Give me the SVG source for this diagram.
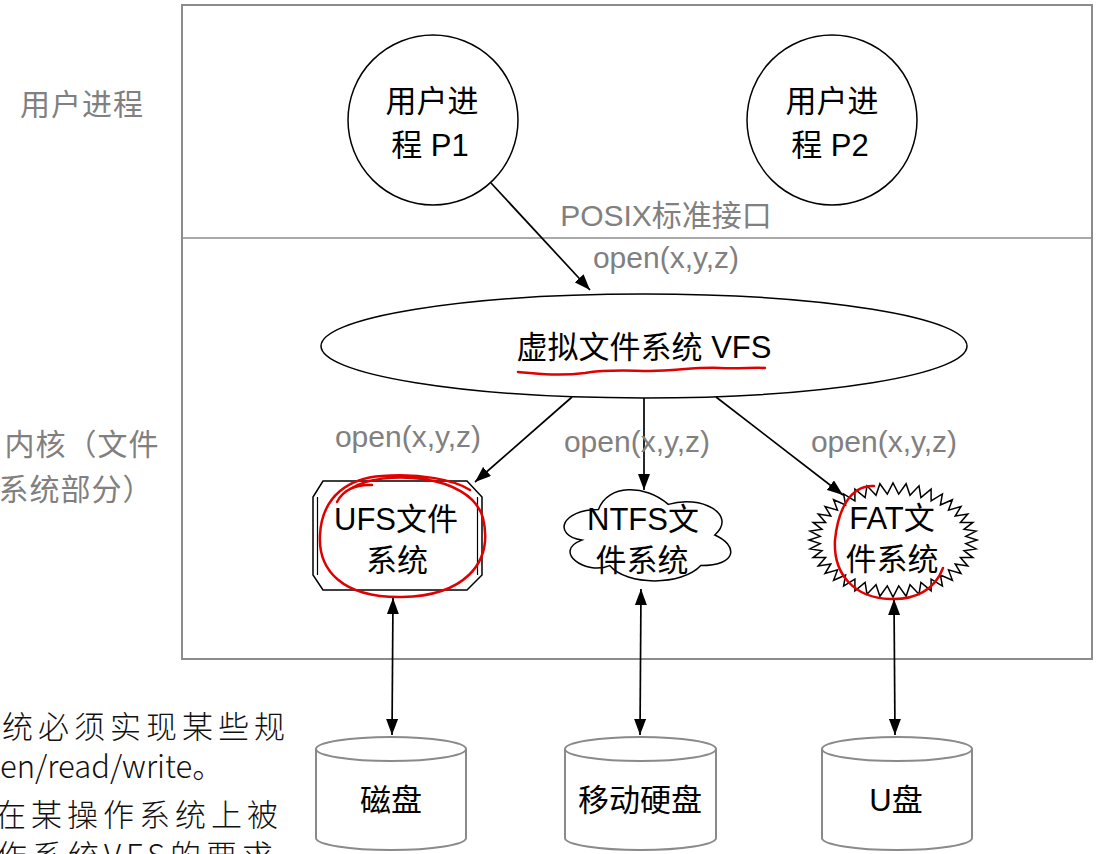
<svg xmlns="http://www.w3.org/2000/svg" width="1108" height="854" viewBox="0 0 1108 854">
<defs>
<style>
.t{font-family:"Liberation Sans","Noto Sans CJK SC",sans-serif;font-size:31px;fill:#000;text-anchor:middle}
.g{font-family:"Liberation Sans","Noto Sans CJK SC",sans-serif;font-size:30px;fill:#808080;text-anchor:middle}
.b{font-family:"Noto Sans CJK SC",sans-serif;font-size:31px;fill:#111;font-weight:300}
.s{fill:#fff;stroke:#000;stroke-width:1.5}
.cyl{fill:#fff;stroke:#8a8a8a;stroke-width:2}
.red{fill:none;stroke:#e00000;stroke-width:2.5;stroke-linecap:round;stroke-linejoin:round}
.ln{fill:none;stroke:#000;stroke-width:1.7}
</style>
<marker id="ah2" viewBox="0 0 16 12" refX="16" refY="6" markerWidth="16" markerHeight="12" markerUnits="userSpaceOnUse" orient="auto-start-reverse">
<path d="M0,0 L16,6 L0,12 Z" fill="#000"/>
</marker>
</defs>
<rect width="1108" height="854" fill="#fff"/>

<g id="frame">
<rect x="182" y="5" width="910" height="654" fill="none" stroke="#8c8c8c" stroke-width="2"/>
<line x1="182" y1="238" x2="1092" y2="238" stroke="#8c8c8c" stroke-width="1.5"/>
</g>

<g id="side-labels">
<text class="g" x="82" y="115" style="letter-spacing:1px">用户进程</text>
<text class="g" x="82" y="455" style="letter-spacing:1px">内核（文件</text>
<text class="g" x="76" y="500" style="letter-spacing:1px">系统部分）</text>
</g>

<g id="p1">
<circle class="s" cx="433" cy="120" r="85"/>
<text class="t" x="432" y="112">用户进</text>
<text class="t" x="430" y="156">程 P1</text>
</g>
<g id="p2">
<circle class="s" cx="832" cy="120" r="85"/>
<text class="t" x="832" y="112">用户进</text>
<text class="t" x="830" y="156">程 P2</text>
</g>

<g id="vfs">
<ellipse class="s" cx="644" cy="346" rx="323" ry="52"/>
<text class="t" x="644" y="358">虚拟文件系统 VFS</text>
</g>

<g id="ufs">
<path class="s" d="M323,481 L467,481 L482,497 L482,575 L467,590 L323,590 L313,575 L313,497 Z"/>
<line x1="317.5" y1="497" x2="317.5" y2="575" stroke="#000" stroke-width="1.2"/>
<line x1="477.5" y1="497" x2="477.5" y2="575" stroke="#000" stroke-width="1.2"/>
<text class="t" x="396" y="530">UFS文件</text>
<text class="t" x="397" y="571">系统</text>
</g>

<g id="ntfs">
<path class="s" d="M598.5,509.5 C561.3,509.5 552,535 581.8,540.1 C552,551.3 585.5,575.8 609.7,565.6 C626.4,586 682.2,586 700.8,565.6 C738,565.6 738,545.2 714.8,535 C738,514.6 700.8,494.2 668.3,504.4 C645,484 607.8,484 598.5,509.5 Z"/>
<text class="t" x="643" y="530">NTFS文</text>
<text class="t" x="642" y="571">件系统</text>
</g>

<g id="fat">
<polygon class="s" points="977,540 965.8,543.6 976,548.9 964,550.7 972.9,557.6 960.4,557.6 967.8,565.9 955.2,564 961,573.5 948.5,569.9 952.4,580.3 940.4,575 942.4,586.1 931.1,579.2 931.1,590.8 920.9,582.5 919,594.2 910,584.7 906.1,596.3 898.7,585.9 893,597 887.3,585.9 879.9,596.3 876,584.7 867,594.2 865.1,582.5 854.9,590.8 854.9,579.2 843.6,586.1 845.6,575 833.6,580.3 837.5,569.9 825,573.5 830.8,564 818.2,565.9 825.6,557.6 813.1,557.6 822,550.7 810,548.9 820.2,543.6 809,540 820.2,536.4 810,531.1 822,529.3 813.1,522.4 825.6,522.4 818.2,514.1 830.8,516 825,506.5 837.5,510.1 833.6,499.7 845.6,505 843.6,493.9 854.9,500.8 854.9,489.2 865.1,497.5 867,485.8 876,495.3 879.9,483.7 887.3,494.1 893,483 898.7,494.1 906.1,483.7 910,495.3 919,485.8 920.9,497.5 931.1,489.2 931.1,500.8 942.4,493.9 940.4,505 952.4,499.7 948.5,510.1 961,506.5 955.2,516 967.8,514.1 960.4,522.4 972.9,522.4 964,529.3 976,531.1 965.8,536.4"/>
<text class="t" x="892" y="529">FAT文</text>
<text class="t" x="892" y="570">件系统</text>
</g>

<g id="disk1">
<path class="cyl" d="M316,749 L316,838 A75,12 0 0 0 466,838 L466,749"/>
<ellipse class="cyl" cx="391" cy="749" rx="75" ry="12"/>
<text class="t" x="391" y="811">磁盘</text>
</g>
<g id="disk2">
<path class="cyl" d="M565,749 L565,838 A75.5,12 0 0 0 716,838 L716,749"/>
<ellipse class="cyl" cx="640.5" cy="749" rx="75.5" ry="12"/>
<text class="t" x="640" y="811">移动硬盘</text>
</g>
<g id="disk3">
<path class="cyl" d="M822,749 L822,838 A75,12 0 0 0 972,838 L972,749"/>
<ellipse class="cyl" cx="897" cy="749" rx="75" ry="12"/>
<text class="t" x="896" y="811">U盘</text>
</g>

<g id="connectors">
<line class="ln" x1="491" y1="183" x2="590" y2="290" marker-end="url(#ah2)"/>
<line class="ln" x1="572" y1="397" x2="475" y2="482" marker-end="url(#ah2)"/>
<line class="ln" x1="644" y1="398" x2="644" y2="490" marker-end="url(#ah2)"/>
<line class="ln" x1="716" y1="397" x2="843" y2="495" marker-end="url(#ah2)"/>
<line class="ln" x1="393" y1="598" x2="392" y2="735" marker-start="url(#ah2)" marker-end="url(#ah2)"/>
<line class="ln" x1="641" y1="589" x2="640" y2="735" marker-start="url(#ah2)" marker-end="url(#ah2)"/>
<line class="ln" x1="894" y1="599" x2="895" y2="735" marker-start="url(#ah2)" marker-end="url(#ah2)"/>
<text class="g" x="666" y="226">POSIX标准接口</text>
<text class="g" x="666" y="268">open(x,y,z)</text>
<text class="g" x="408" y="447">open(x,y,z)</text>
<text class="g" x="637" y="452">open(x,y,z)</text>
<text class="g" x="884" y="452">open(x,y,z)</text>
</g>

<g id="annotations">
<path class="red" d="M518,372 C540,374 560,376 585,373 C610,369 630,371 650,371 C680,370 700,367 720,368 C740,369 755,367 765,368"/>
<path class="red" d="M352,488 C380,470 470,472 483,518 C494,565 462,596 402,597 C342,598 318,570 320,535 C322,495 350,478 382,476 C420,473 455,480 470,490"/>
<path class="red" d="M337,502 C343,490 356,484 372,485"/>
<path class="red" d="M874,486 C850,485 838,510 835,540 C833,575 855,598 890,599 C915,600 935,590 943,568"/>
</g>

<g id="slide-text">
<text class="b" x="2" y="738" style="letter-spacing:5px">统必须实现某些规</text>
<text class="b" x="0" y="778">en/read/write。</text>
<text class="b" x="-5" y="826" style="letter-spacing:5px">在某操作系统上被</text>
<text class="b" x="-4" y="867" style="letter-spacing:5px">作系统VFS的要求</text>
</g>
</svg>
